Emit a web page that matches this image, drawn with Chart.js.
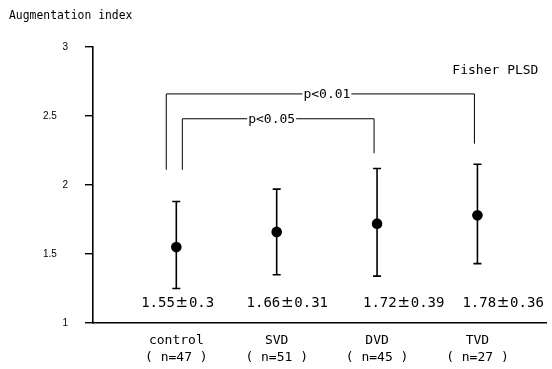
<!DOCTYPE html>
<html><head><meta charset="utf-8">
<script src="https://cdn.jsdelivr.net/npm/chart.js@4/dist/chart.umd.min.js"></script>
<style>html,body{margin:0;padding:0;background:#fff}</style>
</head><body>
<canvas id="c" width="552" height="369"></canvas>
<script>
// ---- data ----
const categories = ['control', 'SVD', 'DVD', 'TVD'];
const groupSizes = ['( n=47 )', '( n=51 )', '( n=45 )', '( n=27 )'];
const means = [1.55, 1.66, 1.72, 1.78];
const sds = [0.3, 0.31, 0.39, 0.36];
const errLow = [1.25, 1.35, 1.34, 1.43];
const errHigh = [1.88, 1.97, 2.12, 2.15];
const yTicks = [1, 1.5, 2, 2.5, 3];
const yTickLabels = ['1', '1.5', '2', '2.5', '3'];
const comparisonLabels = ['p<0.01', 'p<0.05'];
const comparisonFrom = [0, 0];
const comparisonTo = [3, 2];
const comparisonLevel = [2.66, 2.48];
const axisTitle = 'Augmentation index';
const testName = 'Fisher PLSD';

const MONO = '"DejaVu Sans Mono", "Liberation Mono", monospace';

const annot = {
  id: 'annot',
  beforeDatasetsDraw(chart, args, o) {
    const ctx = chart.ctx, xs = chart.scales.x, ys = chart.scales.y;
    ctx.save();
    ctx.strokeStyle = '#000';
    // error bars
    ctx.lineWidth = 1.6;
    means.forEach((m, i) => {
      const x = xs.getPixelForValue(i);
      const yl = ys.getPixelForValue(errLow[i]);
      const yh = ys.getPixelForValue(errHigh[i]);
      ctx.beginPath();
      ctx.moveTo(x, yl); ctx.lineTo(x, yh);
      ctx.moveTo(x - 4, yl); ctx.lineTo(x + 4, yl);
      ctx.moveTo(x - 4, yh); ctx.lineTo(x + 4, yh);
      ctx.stroke();
    });
    // comparison brackets
    ctx.lineWidth = 1;
    comparisonLabels.forEach((lab, k) => {
      const xl = xs.getPixelForValue(comparisonFrom[k] + o.leftOffset[k]);
      const xr = xs.getPixelForValue(comparisonTo[k] + o.rightOffset[k]);
      const yt = ys.getPixelForValue(comparisonLevel[k]);
      const ylb = ys.getPixelForValue(o.leftBottom[k]);
      const yrb = ys.getPixelForValue(o.rightBottom[k]);
      ctx.beginPath();
      ctx.moveTo(xl, ylb); ctx.lineTo(xl, yt); ctx.lineTo(xr, yt); ctx.lineTo(xr, yrb);
      ctx.stroke();
      ctx.font = '13px ' + MONO;
      const tx = xs.getPixelForValue(o.labelAt[k]);
      const w = ctx.measureText(lab).width;
      ctx.fillStyle = '#fff';
      ctx.fillRect(tx - w / 2 - 1, yt - 3, w + 2, 6);
      ctx.fillStyle = '#000';
      ctx.textAlign = 'center';
      ctx.textBaseline = 'middle';
      ctx.fillText(lab, tx, yt + 1);
    });
    ctx.restore();
  },
  afterDraw(chart, args, o) {
    const ctx = chart.ctx, xs = chart.scales.x, ys = chart.scales.y;
    ctx.save();
    ctx.fillStyle = '#000';
    ctx.textBaseline = 'middle';
    ctx.textAlign = 'left';
    // value labels: mean ± sd (± set in a full-width cell)
    means.forEach((m, i) => {
      let x = xs.getPixelForValue(o.valueLabelX[i]);
      const y = ys.getPixelForValue(o.valueLabelY);
      const a = m.toFixed(2), b = String(sds[i]);
      ctx.font = '14px ' + MONO;
      ctx.textAlign = 'left';
      ctx.fillText(a, x, y);
      x += ctx.measureText(a).width;
      ctx.font = '15px "DejaVu Sans", sans-serif';
      ctx.textAlign = 'center';
      ctx.fillText('±', x + 7, y);
      x += 14;
      ctx.font = '14px ' + MONO;
      ctx.textAlign = 'left';
      ctx.fillText(b, x, y);
    });
    // test name
    ctx.textAlign = 'left';
    ctx.font = '13px ' + MONO;
    ctx.fillText(testName, xs.getPixelForValue(o.testAt[0]), ys.getPixelForValue(o.testAt[1]));
    // axis title
    ctx.font = '11.4px ' + MONO;
    ctx.fillText(axisTitle, 9, 16);
    ctx.restore();
  }
};

new Chart(document.getElementById('c'), {
  type: 'scatter',
  data: {
    datasets: [{
      data: means.map((m, i) => ({ x: i, y: m })),
      pointRadius: 5.3,
      pointHoverRadius: 5.3,
      backgroundColor: '#000',
      borderColor: '#000',
      borderWidth: 0
    }]
  },
  options: {
    responsive: false,
    animation: false,
    devicePixelRatio: 1,
    layout: { padding: { top: 47, right: 1, left: 0, bottom: 0 } },
    plugins: {
      legend: { display: false },
      tooltip: { enabled: false },
      annot: {
        leftOffset: [-0.1, 0.06],
        rightOffset: [-0.03, -0.03],
        leftBottom: [2.11, 2.11],
        rightBottom: [2.30, 2.23],
        labelAt: [1.5, 0.95],
        valueLabelX: [-0.35, 0.70, 1.86, 2.85],
        valueLabelY: 1.145,
        testAt: [2.75, 2.83]
      }
    },
    scales: {
      x: {
        type: 'linear',
        min: -0.83,
        max: 3.69,
        afterFit(s) { s.height = 46; },
        afterBuildTicks(s) { s.ticks = categories.map((c, i) => ({ value: i })); },
        grid: { display: true, drawOnChartArea: false, drawTicks: false },
        border: { display: true, color: '#000', width: 1.6 },
        ticks: {
          padding: 9,
          color: '#000',
          font: { family: MONO, size: 13, lineHeight: 1.3 },
          maxRotation: 0,
          autoSkip: false,
          callback: (v) => [categories[v], groupSizes[v]]
        }
      },
      y: {
        min: 1,
        max: 3,
        afterFit(s) { s.width = 93; },
        afterBuildTicks(s) { s.ticks = yTicks.map(v => ({ value: v })); },
        grid: { display: true, drawOnChartArea: false, drawTicks: true, tickLength: 8, color: '#000', lineWidth: 1.4 },
        border: { display: true, color: '#000', width: 1.6 },
        ticks: {
          padding: 17,
          color: '#000',
          font: { family: '"Liberation Sans", Arial, sans-serif', size: 10 },
          callback: (v) => {
            const s = yTickLabels[yTicks.indexOf(v)];
            return s.indexOf('.') >= 0 ? s + '    ' : s;
          }
        }
      }
    }
  },
  plugins: [annot]
});
</script>
</body></html>
